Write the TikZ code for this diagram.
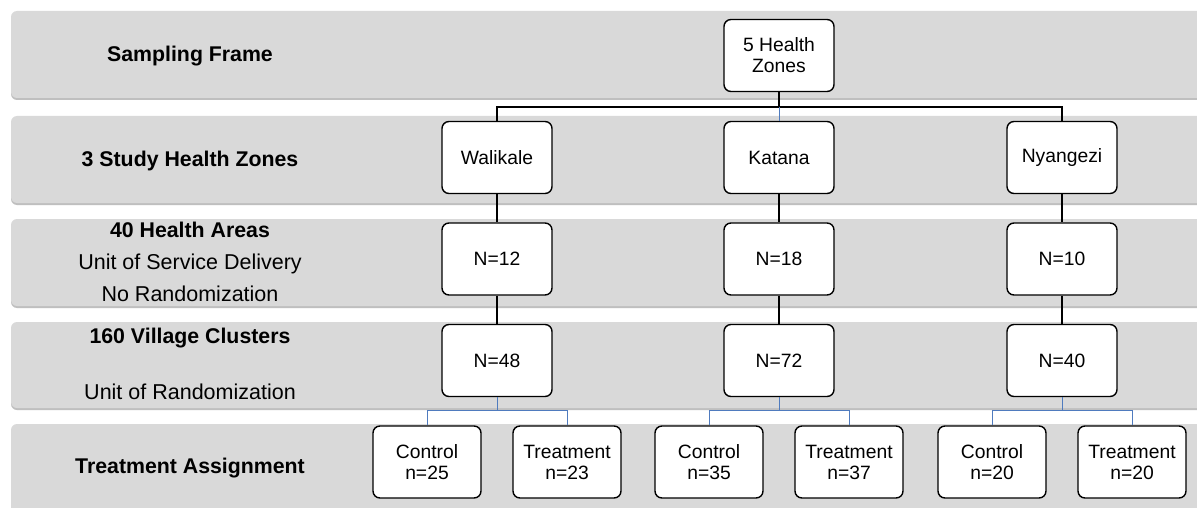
\documentclass[tikz,border=0pt]{standalone}
\usepackage{fontspec}
\setmainfont{Liberation Sans}
\definecolor{bandgray}{HTML}{D9D9D9}
\definecolor{bandshadow}{HTML}{BFBFBF}
\definecolor{linkblue}{HTML}{4F7BBE}
\newcommand{\boxfont}{\fontsize{19.3}{21}\selectfont}
\newcommand{\labfontbold}{\fontsize{21.3}{24}\selectfont\bfseries}
\newcommand{\labfontreg}{\fontsize{21.5}{24}\selectfont}
\begin{document}
\begin{tikzpicture}[x=1pt,y=-1pt,
  band/.style={fill=bandgray, rounded corners=6pt},
  bandsh/.style={fill=bandshadow, rounded corners=6pt},
  box/.style={draw=black, line width=1.4pt, fill=white, rounded corners=7pt,
    minimum width=110pt, minimum height=72pt, align=center, font=\boxfont,
    inner sep=0pt},
  cbox/.style={box, minimum width=108pt},
  labb/.style={font=\labfontbold, anchor=base, inner sep=0pt},
  labr/.style={font=\labfontreg, anchor=base, inner sep=0pt},
  blk/.style={draw=black, line width=1.3pt},
  blu/.style={draw=linkblue, line width=1pt}]
\useasboundingbox (0,0) rectangle (1197,508);
\fill[white] (0,0) rectangle (1197,508);
% bands
\foreach \a/\b in {11/98,116/203,219/306,322/408,424/530}{
  \path[bandsh] (11,\a+2) rectangle (1215,\b+2);
  \path[band] (11,\a) rectangle (1215,\b);
}
% labels
\node[labb] (l1) at (190,62) {Sampling Frame};
\node[labb] (l2) at (190,167) {3 Study Health Zones};
\node[labb] (l3a) at (190,237) {40 Health Areas};
\node[labr] (l3b) at (190,269) {Unit of Service Delivery};
\node[labr] (l3c) at (190,301) {No Randomization};
\node[labb] (l4a) at (190,343) {160 Village Clusters};
\node[labr] (l4b) at (190,399) {Unit of Randomization};
\node[labb] (l5) at (190,473) {Treatment Assignment};
% nodes
\node[box] (hz) at (779,55.5) {5 Health\\Zones};
\node[box] (wal) at (497,157.5) {Walikale};
\node[box] (kat) at (779,157.5) {Katana};
\node[box] (nya) at (1062,157.5) {Nyangezi};
\node[box] (a1) at (497,259) {N=12};
\node[box] (a2) at (779,259) {N=18};
\node[box] (a3) at (1062,259) {N=10};
\node[box] (v1) at (497,360.5) {N=48};
\node[box] (v2) at (779,360.5) {N=72};
\node[box] (v3) at (1062,360.5) {N=40};
\node[cbox] (c1) at (427,462) {Control\\n=25};
\node[cbox] (t1) at (567,462) {Treatment\\n=23};
\node[cbox] (c2) at (709,462) {Control\\n=35};
\node[cbox] (t2) at (849,462) {Treatment\\n=37};
\node[cbox] (c3) at (992,462) {Control\\n=20};
\node[cbox] (t3) at (1132,462) {Treatment\\n=20};
% connectors
\coordinate (j0) at (779,107);
\draw[blk] (hz.south) -- (j0);
\draw[blk] (j0) -| (wal.north);
\draw[blk] (j0) -| (nya.north);
\draw[blu] (j0) -- (kat.north);
\foreach \p/\q in {wal/a1,kat/a2,nya/a3,a1/v1,a2/v2,a3/v3}{
  \draw[blk] (\p.south) -- (\q.north);
}
\coordinate (j1) at (497,410);
\coordinate (j2) at (779,410);
\coordinate (j3) at (1062,410);
\draw[blu] (v1.south) -- (j1);
\draw[blu] (j1) -| (c1.north);
\draw[blu] (j1) -| (t1.north);
\draw[blu] (v2.south) -- (j2);
\draw[blu] (j2) -| (c2.north);
\draw[blu] (j2) -| (t2.north);
\draw[blu] (v3.south) -- (j3);
\draw[blu] (j3) -| (c3.north);
\draw[blu] (j3) -| (t3.north);
\end{tikzpicture}
\end{document}
